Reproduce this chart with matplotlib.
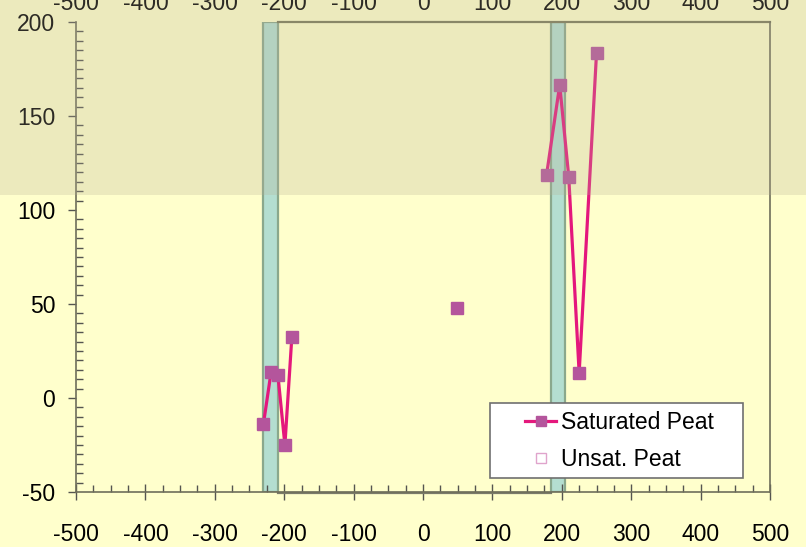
import numpy as np
import matplotlib
matplotlib.use("Agg")
import matplotlib.pyplot as plt
from matplotlib.patches import Rectangle
from matplotlib.lines import Line2D
from matplotlib.ticker import MultipleLocator
import matplotlib.transforms as mtransforms

plt.rcParams['font.family'] = ['Liberation Sans', 'DejaVu Sans']
plt.rcParams['axes.unicode_minus'] = False

# Saturated peat profile (NaN breaks the line between groups)
sat_x = [-230, -219, -209, -199, -189, np.nan, 49, np.nan, 178, 197, 210, 225, 250]
sat_y = [-14, 13.6, 12, -25, 32.4, np.nan, 47.9, np.nan, 118.6, 166.5, 117.7, 13.3, 183.3]

# Vertical bands (x start, x end)
bands = [(-230, -209), (184, 205)]

x_ticks = [-500, -400, -300, -200, -100, 0, 100, 200, 300, 400, 500]
y_ticks = [-50, 0, 50, 100, 150, 200]
band_level = 108

bg = '#ffffcc'
fig = plt.figure(figsize=(8.06, 5.47), dpi=100, facecolor=bg)
ax = fig.add_axes([76/806, 55/547, 694/806, 470/547])
ax.set_facecolor(bg)
ax.set_xlim(-500, 500)
ax.set_ylim(-50, 200)

for x0, x1 in bands:
    ax.add_patch(Rectangle((x0, -50), x1 - x0, 250, facecolor='#b4ded0',
                           edgecolor='#8aa88c', linewidth=1.6, zorder=1))

# frame segments
ax.plot([-209, 500], [200, 200], color='#7a7a5a', lw=1.6, zorder=2, clip_on=False)
ax.plot([-209, 184], [-50.6, -50.6], color='#7a7a6a', lw=1.6, zorder=2, clip_on=False)

ax.plot(sat_x, sat_y, color='#e4187c', lw=2.3, zorder=3)
ax.plot(sat_x, sat_y, linestyle='none', marker='s', markersize=8.5,
        markerfacecolor='#b4559c', markeredgecolor='#b4559c', zorder=4)

ax.spines['top'].set_visible(False)
for s in ['left', 'bottom', 'right']:
    ax.spines[s].set_color('#6e6e5a')
    ax.spines[s].set_linewidth(1.2)

ax.xaxis.set_minor_locator(MultipleLocator(25))
ax.yaxis.set_minor_locator(MultipleLocator(5))
ax.set_xticks(x_ticks)
ax.set_yticks(y_ticks)
ax.set_xticklabels([str(v) for v in x_ticks])
ax.set_yticklabels([str(v) for v in y_ticks])
ax.tick_params(axis='x', which='major', direction='inout', length=12, width=1,
               color='#555550', labelsize=16.5, pad=16)
ax.tick_params(axis='x', which='minor', direction='in', length=5, width=1, color='#555550')
ax.tick_params(axis='y', which='major', direction='out', length=6, width=1,
               color='#555550', labelsize=16.5, pad=9)
ax.tick_params(axis='y', which='minor', direction='in', length=5, width=1, color='#555550')

sec = ax.secondary_xaxis('top')
sec.set_xticks(x_ticks)
sec.set_xticklabels([str(v) for v in x_ticks])
sec.tick_params(length=0, labelsize=16.5, pad=5)
sec.spines['top'].set_visible(False)

# legend box and entries
ax.add_patch(Rectangle((0.5965, 0.0298), 0.3645, 0.1596, transform=ax.transAxes,
                       facecolor='white', edgecolor='#707070', linewidth=1.2,
                       zorder=5, clip_on=False))
handles = [
    Line2D([], [], color='#e4187c', lw=2.3, marker='s', markersize=7,
           markerfacecolor='#b4559c', markeredgecolor='#b4559c'),
    Line2D([], [], linestyle='none', marker='s', markersize=7,
           markerfacecolor='white', markeredgecolor='#e0a4cc'),
]
leg = ax.legend(handles, ['Saturated Peat', 'Unsat. Peat'], loc='center',
                bbox_to_anchor=(0.7832, 0.1085), fontsize=16.5, frameon=False,
                handlelength=1.35, handletextpad=0.2, borderpad=0,
                borderaxespad=0, labelspacing=0.65)
leg.set_zorder(6)

# translucent overlay across the upper part of the figure
trans = mtransforms.blended_transform_factory(fig.transFigure, ax.transData)
fig.patches.append(Rectangle((0, band_level), 1, 1000, transform=trans,
                             facecolor=(183/255, 175/255, 148/255), alpha=0.25,
                             edgecolor='none', zorder=10, figure=fig))

fig.savefig('out.png', dpi=100, facecolor=bg)
